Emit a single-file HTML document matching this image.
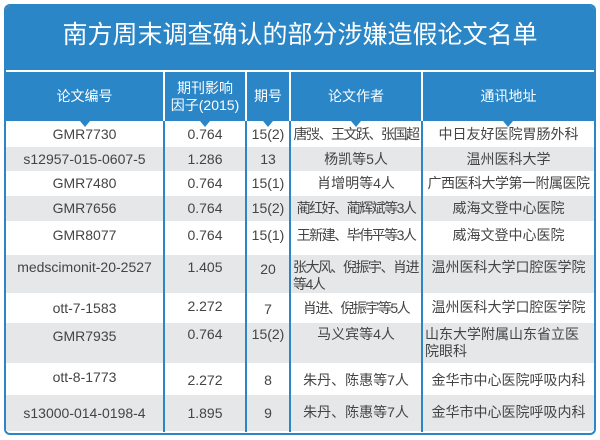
<!DOCTYPE html>
<html><head><meta charset="utf-8"><style>
body{margin:0;width:600px;height:440px;background:#fff;overflow:hidden;font-family:"Liberation Sans","Noto Sans CJK SC",sans-serif;position:relative;}
.a{position:absolute;}
#box{left:4px;top:4px;width:588px;height:427px;border:2px solid #2a86c6;border-radius:6px;overflow:hidden;background:#fff;}
#title{left:6px;top:6px;width:588px;height:64px;background:#2a86c6;color:#fff;font-size:25px;text-align:center;line-height:58px;border-radius:4px 4px 0 0;}
.hd{top:72px;height:49px;background:#2a86c6;color:#fff;font-size:14px;display:flex;align-items:center;justify-content:center;text-align:center;line-height:17px;}
.tri{top:121px;width:0;height:0;border-left:5px solid transparent;border-right:5px solid transparent;border-top:6px solid #2a86c6;margin-left:-5px;}
.g{background:#e6e7e8;left:6px;width:588px;}
.c{color:#444;font-size:14px;white-space:nowrap;text-align:center;line-height:17px;}
.v{width:2px;background:#2a86c6;top:121px;height:311px;}
.au{letter-spacing:-1.5px;}
</style></head><body>
<div id="box" class="a"></div>
<div id="title" class="a">南方周末调查确认的部分涉嫌造假论文名单</div>
<div class="a hd" style="left:6px;width:157px">论文编号</div>
<div class="a hd" style="left:165px;width:80px">期刊影响<br>因子(2015)</div>
<div class="a hd" style="left:247px;width:42px">期号</div>
<div class="a hd" style="left:291px;width:130px">论文作者</div>
<div class="a hd" style="left:423px;width:171px">通讯地址</div>
<div class="a tri" style="left:85px"></div><div class="a tri" style="left:205px"></div><div class="a tri" style="left:268px"></div><div class="a tri" style="left:356px"></div><div class="a tri" style="left:508px"></div>
<div class="a g" style="top:147px;height:24px"></div>
<div class="a g" style="top:196px;height:25px"></div>
<div class="a g" style="top:255px;height:38px"></div>
<div class="a g" style="top:323px;height:40px"></div>
<div class="a g" style="top:395px;height:36px"></div>
<div class="a v" style="left:163px"></div><div class="a v" style="left:245px"></div><div class="a v" style="left:289px"></div><div class="a v" style="left:421px"></div>

<div class="a c" style="top:126px;left:6px;width:157px">GMR7730</div>
<div class="a c" style="top:126px;left:165px;width:80px">0.764</div>
<div class="a c" style="top:126px;left:247px;width:42px">15(2)</div>
<div class="a c au" style="top:126px;left:291px;width:130px">唐弢、王文跃、张国超</div>
<div class="a c" style="top:126px;left:423px;width:171px">中日友好医院胃肠外科</div>

<div class="a c" style="top:151px;left:6px;width:157px">s12957-015-0607-5</div>
<div class="a c" style="top:151px;left:165px;width:80px">1.286</div>
<div class="a c" style="top:151px;left:247px;width:42px">13</div>
<div class="a c" style="top:151px;left:291px;width:130px">杨凯等5人</div>
<div class="a c" style="top:151px;left:423px;width:171px">温州医科大学</div>

<div class="a c" style="top:175px;left:6px;width:157px">GMR7480</div>
<div class="a c" style="top:175px;left:165px;width:80px">0.764</div>
<div class="a c" style="top:175px;left:247px;width:42px">15(1)</div>
<div class="a c" style="top:175px;left:291px;width:130px">肖增明等4人</div>
<div class="a c au" style="top:175px;left:423px;width:171px;letter-spacing:-0.5px">广西医科大学第一附属医院</div>

<div class="a c" style="top:200px;left:6px;width:157px">GMR7656</div>
<div class="a c" style="top:200px;left:165px;width:80px">0.764</div>
<div class="a c" style="top:200px;left:247px;width:42px">15(2)</div>
<div class="a c au" style="top:200px;left:291px;width:130px">蔺红好、蔺辉斌等3人</div>
<div class="a c" style="top:200px;left:423px;width:171px">威海文登中心医院</div>

<div class="a c" style="top:227px;left:6px;width:157px">GMR8077</div>
<div class="a c" style="top:227px;left:165px;width:80px">0.764</div>
<div class="a c" style="top:227px;left:247px;width:42px">15(1)</div>
<div class="a c au" style="top:227px;left:291px;width:130px">王新建、毕伟平等3人</div>
<div class="a c" style="top:227px;left:423px;width:171px">威海文登中心医院</div>

<div class="a c" style="top:259px;left:6px;width:157px">medscimonit-20-2527</div>
<div class="a c" style="top:259px;left:165px;width:80px">1.405</div>
<div class="a c" style="top:261px;left:247px;width:42px">20</div>
<div class="a c au" style="top:259px;left:293px;width:128px;text-align:left">张大风、倪振宇、肖进<br>等4人</div>
<div class="a c" style="top:259px;left:423px;width:171px">温州医科大学口腔医学院</div>

<div class="a c" style="top:300px;left:6px;width:157px">ott-7-1583</div>
<div class="a c" style="top:298px;left:165px;width:80px">2.272</div>
<div class="a c" style="top:301px;left:247px;width:42px">7</div>
<div class="a c au" style="top:300px;left:291px;width:130px">肖进、倪振宇等5人</div>
<div class="a c" style="top:299px;left:423px;width:171px">温州医科大学口腔医学院</div>

<div class="a c" style="top:328px;left:6px;width:157px">GMR7935</div>
<div class="a c" style="top:326px;left:165px;width:80px">0.764</div>
<div class="a c" style="top:326px;left:247px;width:42px">15(2)</div>
<div class="a c" style="top:326px;left:291px;width:130px">马义宾等4人</div>
<div class="a c" style="top:326px;left:425px;width:169px;text-align:left">山东大学附属山东省立医<br>院眼科</div>

<div class="a c" style="top:369px;left:6px;width:157px">ott-8-1773</div>
<div class="a c" style="top:372px;left:165px;width:80px">2.272</div>
<div class="a c" style="top:372px;left:247px;width:42px">8</div>
<div class="a c" style="top:372px;left:291px;width:130px">朱丹、陈惠等7人</div>
<div class="a c" style="top:372px;left:423px;width:171px">金华市中心医院呼吸内科</div>

<div class="a c" style="top:405px;left:6px;width:157px">s13000-014-0198-4</div>
<div class="a c" style="top:405px;left:165px;width:80px">1.895</div>
<div class="a c" style="top:405px;left:247px;width:42px">9</div>
<div class="a c" style="top:404px;left:291px;width:130px">朱丹、陈惠等7人</div>
<div class="a c" style="top:404px;left:423px;width:171px">金华市中心医院呼吸内科</div>
</body></html>
